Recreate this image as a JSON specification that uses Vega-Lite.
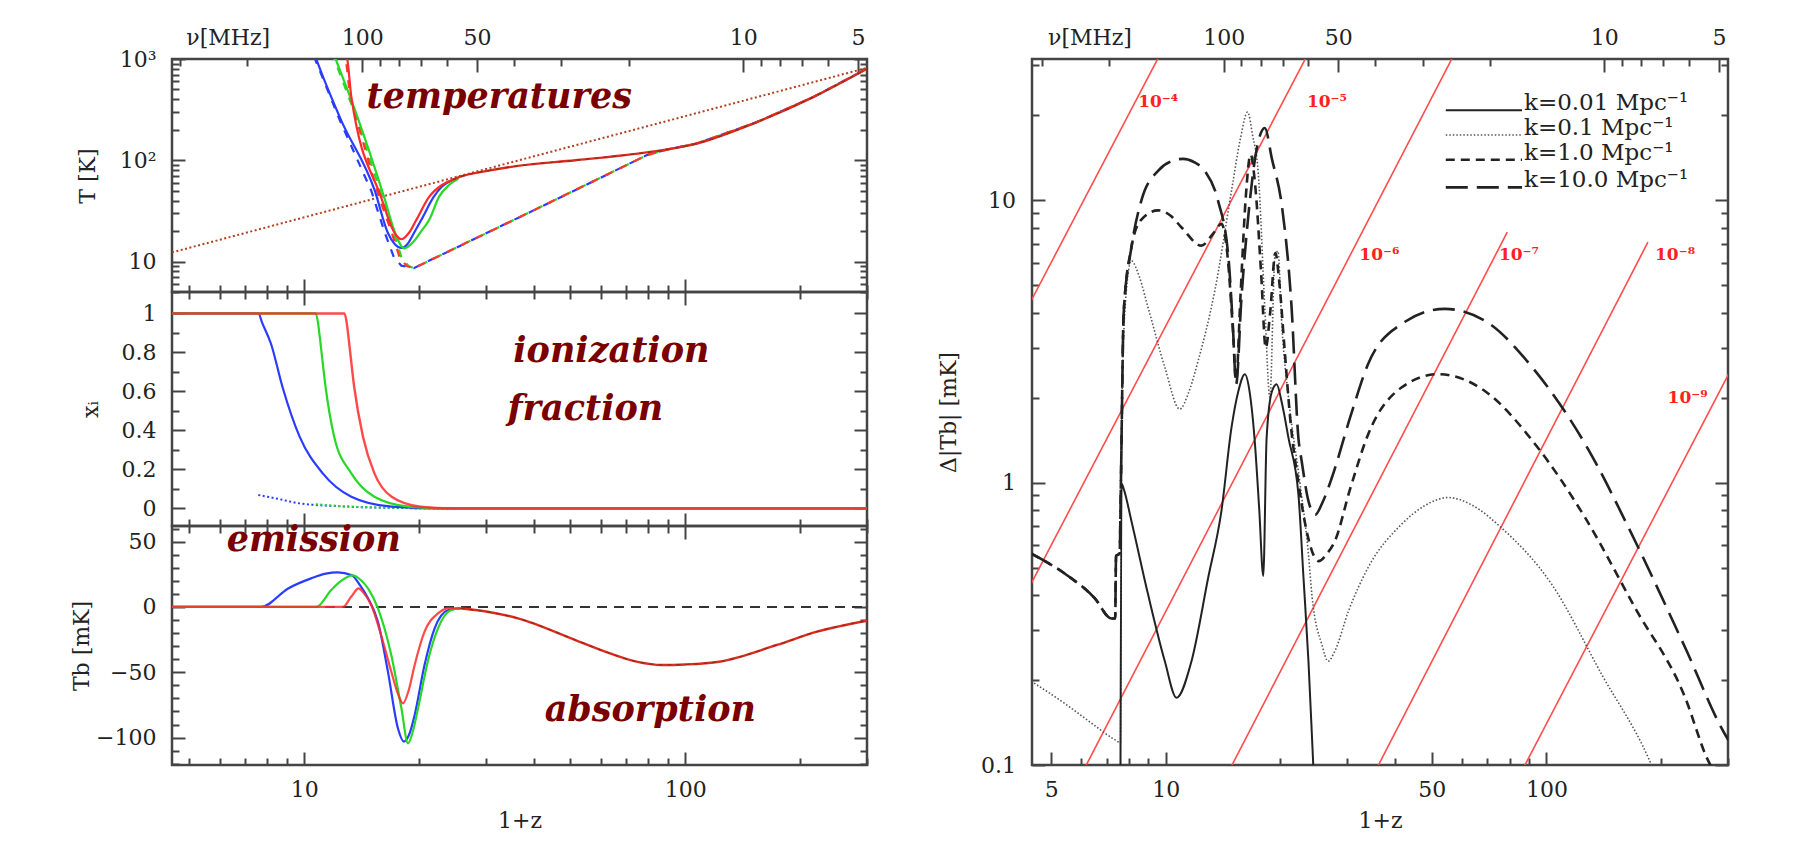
{
  "$schema": "https://vega.github.io/schema/vega-lite/v6.json",
  "background": "white",
  "padding": {"left": 68, "top": 18, "right": 5, "bottom": 5},
  "config": {
    "view": {"stroke": "#444", "strokeWidth": 2.5},
    "axis": {"grid": false, "domain": false, "tickColor": "#444", "tickWidth": 2, "labelFont": "DejaVu Serif", "labelFontSize": 22, "labelColor": "#222", "titleFont": "DejaVu Serif", "titleFontSize": 22, "titleFontWeight": "normal", "titleColor": "#222", "labelFlush": false, "labelOverlap": false}
  },
  "datasets": {
    "top": [
      {"s":"cmb","v":4.5,"T":12.3},{"s":"cmb","v":300,"T":817},
      {"s":"tgB","v":10.6,"T":1060},{"s":"tgB","v":10.68,"T":1000},{"s":"tgB","v":12.4,"T":249},{"s":"tgB","v":15.0,"T":50},{"s":"tgB","v":16.3,"T":19},{"s":"tgB","v":17.2,"T":11},{"s":"tgB","v":18.0,"T":9.1},{"s":"tgB","v":19.4,"T":8.6},{"s":"tgB","v":40,"T":32},{"s":"tgB","v":79.6,"T":113},{"s":"tgB","v":90,"T":128},{"s":"tgB","v":107,"T":146},{"s":"tgB","v":152,"T":233},{"s":"tgB","v":216,"T":418},{"s":"tgB","v":300,"T":802},
      {"s":"tgG","v":11.93,"T":1060},{"s":"tgG","v":12.0,"T":1000},{"s":"tgG","v":13.6,"T":289},{"s":"tgG","v":16.0,"T":43.7},{"s":"tgG","v":17.2,"T":19},{"s":"tgG","v":18.0,"T":11},{"s":"tgG","v":18.8,"T":9.0},{"s":"tgG","v":19.4,"T":8.6},{"s":"tgG","v":40,"T":32},{"s":"tgG","v":79.6,"T":113},{"s":"tgG","v":90,"T":128},{"s":"tgG","v":107,"T":146},{"s":"tgG","v":152,"T":233},{"s":"tgG","v":216,"T":418},{"s":"tgG","v":300,"T":802},
      {"s":"tgR","v":12.8,"T":1060},{"s":"tgR","v":12.87,"T":1000},{"s":"tgR","v":13.2,"T":422},{"s":"tgR","v":15.7,"T":43.7},{"s":"tgR","v":17.0,"T":19},{"s":"tgR","v":17.8,"T":11},{"s":"tgR","v":18.6,"T":9.0},{"s":"tgR","v":19.4,"T":8.6},{"s":"tgR","v":40,"T":32},{"s":"tgR","v":79.6,"T":113},{"s":"tgR","v":90,"T":128},{"s":"tgR","v":107,"T":146},{"s":"tgR","v":152,"T":233},{"s":"tgR","v":216,"T":418},{"s":"tgR","v":300,"T":802},
      {"s":"tsB","v":10.7,"T":1060},{"s":"tsB","v":10.76,"T":1000},{"s":"tsB","v":12.5,"T":249},{"s":"tsB","v":15.3,"T":50.9},{"s":"tsB","v":16.6,"T":19},{"s":"tsB","v":17.3,"T":14.8},{"s":"tsB","v":18.0,"T":13.6},{"s":"tsB","v":18.7,"T":15},{"s":"tsB","v":19.4,"T":19},{"s":"tsB","v":20.3,"T":25.8},{"s":"tsB","v":21.9,"T":43.7},{"s":"tsB","v":23.0,"T":55},{"s":"tsB","v":24.5,"T":64},
      {"s":"tsG","v":12.03,"T":1060},{"s":"tsG","v":12.1,"T":1000},{"s":"tsG","v":13.7,"T":289},{"s":"tsG","v":16.2,"T":43.7},{"s":"tsG","v":17.3,"T":19.5},{"s":"tsG","v":18.3,"T":13.5},{"s":"tsG","v":19.3,"T":15.5},{"s":"tsG","v":20.3,"T":20},{"s":"tsG","v":21.3,"T":25.8},{"s":"tsG","v":22.6,"T":43.7},{"s":"tsG","v":24.0,"T":57},{"s":"tsG","v":25.4,"T":66},
      {"s":"tsR","v":12.9,"T":1060},{"s":"tsR","v":12.97,"T":1000},{"s":"tsR","v":13.3,"T":422},{"s":"tsR","v":15.9,"T":43.7},{"s":"tsR","v":17.3,"T":19},{"s":"tsR","v":18.0,"T":16.6},{"s":"tsR","v":18.8,"T":19},{"s":"tsR","v":19.7,"T":25.8},{"s":"tsR","v":21.3,"T":43.7},{"s":"tsR","v":23.0,"T":57},{"s":"tsR","v":24.5,"T":64},
      {"s":"tail","v":24.5,"T":64},{"s":"tail","v":25.7,"T":68.8},{"s":"tail","v":30,"T":78},{"s":"tail","v":36.4,"T":88},{"s":"tail","v":51.5,"T":100},{"s":"tail","v":73,"T":115},{"s":"tail","v":90,"T":128},{"s":"tail","v":107,"T":146},{"s":"tail","v":152,"T":233},{"s":"tail","v":216,"T":418},{"s":"tail","v":300,"T":802}
    ],
    "mid": [
      {"s":"B","v":4.5,"x":1},{"s":"B","v":7.58,"x":1},{"s":"B","v":7.77,"x":0.949},{"s":"B","v":8.18,"x":0.846},{"s":"B","v":8.77,"x":0.624},{"s":"B","v":9.73,"x":0.368},{"s":"B","v":11.19,"x":0.18},{"s":"B","v":13.3,"x":0.06},{"s":"B","v":16.97,"x":0.009},{"s":"B","v":22.4,"x":0},{"s":"B","v":300,"x":0},
      {"s":"G","v":4.5,"x":1},{"s":"G","v":10.73,"x":1},{"s":"G","v":10.88,"x":0.949},{"s":"G","v":10.99,"x":0.88},{"s":"G","v":11.38,"x":0.624},{"s":"G","v":11.99,"x":0.368},{"s":"G","v":13.3,"x":0.18},{"s":"G","v":15.29,"x":0.06},{"s":"G","v":18.8,"x":0.009},{"s":"G","v":23,"x":0},{"s":"G","v":300,"x":0},
      {"s":"R","v":4.5,"x":1},{"s":"R","v":12.76,"x":1},{"s":"R","v":12.94,"x":0.949},{"s":"R","v":13.07,"x":0.88},{"s":"R","v":13.53,"x":0.624},{"s":"R","v":14.27,"x":0.368},{"s":"R","v":15.29,"x":0.18},{"s":"R","v":16.97,"x":0.06},{"s":"R","v":20.2,"x":0.009},{"s":"R","v":24.5,"x":0},{"s":"R","v":300,"x":0},
      {"s":"dB","v":7.58,"x":0.069},{"s":"dB","v":8.5,"x":0.05},{"s":"dB","v":9.73,"x":0.026},{"s":"dB","v":12.8,"x":0.01},{"s":"dB","v":17,"x":0.003},{"s":"dB","v":25,"x":0},
      {"s":"dG","v":10.73,"x":0.022},{"s":"dG","v":13,"x":0.01},{"s":"dG","v":17,"x":0.004},{"s":"dG","v":25,"x":0}
    ],
    "bot": [
      {"s":"zero","v":4.5,"T":0},{"s":"zero","v":300,"T":0},
      {"s":"B","v":4.5,"T":0},{"s":"B","v":7.71,"T":0},{"s":"B","v":9.08,"T":14.2},{"s":"B","v":10.43,"T":21.9},{"s":"B","v":11.4,"T":25.5},{"s":"B","v":12.26,"T":26.5},{"s":"B","v":13.3,"T":24.5},{"s":"B","v":14.1,"T":15.5},{"s":"B","v":14.71,"T":6.6},{"s":"B","v":15.62,"T":-11.3},{"s":"B","v":16.59,"T":-49.5},{"s":"B","v":17.63,"T":-93},{"s":"B","v":18.28,"T":-103.1},{"s":"B","v":18.9,"T":-97},{"s":"B","v":19.5,"T":-82.7},{"s":"B","v":20.7,"T":-44.4},{"s":"B","v":22.0,"T":-16.4},{"s":"B","v":23.9,"T":-2.3},{"s":"B","v":25.7,"T":-1},
      {"s":"G","v":4.5,"T":0},{"s":"G","v":10.76,"T":0},{"s":"G","v":11.78,"T":13},{"s":"G","v":12.5,"T":20},{"s":"G","v":13.4,"T":24.2},{"s":"G","v":14.1,"T":20.5},{"s":"G","v":14.71,"T":14.2},{"s":"G","v":15.62,"T":-1},{"s":"G","v":16.93,"T":-36.8},{"s":"G","v":18.0,"T":-77.6},{"s":"G","v":18.73,"T":-104.4},{"s":"G","v":19.3,"T":-95},{"s":"G","v":19.9,"T":-77.6},{"s":"G","v":21.1,"T":-41.9},{"s":"G","v":22.45,"T":-16.4},{"s":"G","v":24.3,"T":-2.3},{"s":"G","v":25.7,"T":-1},
      {"s":"R","v":4.5,"T":0},{"s":"R","v":12.64,"T":0},{"s":"R","v":13.3,"T":8},{"s":"R","v":13.9,"T":14.3},{"s":"R","v":14.3,"T":11},{"s":"R","v":15.0,"T":1.5},{"s":"R","v":15.92,"T":-21.5},{"s":"R","v":16.93,"T":-49.5},{"s":"R","v":17.6,"T":-66},{"s":"R","v":18.17,"T":-73.8},{"s":"R","v":18.8,"T":-64},{"s":"R","v":19.5,"T":-44.4},{"s":"R","v":20.7,"T":-18.9},{"s":"R","v":22.45,"T":-4.9},{"s":"R","v":23.9,"T":-1},{"s":"R","v":25.7,"T":-1},
      {"s":"tail","v":25.7,"T":-1},{"s":"tail","v":30,"T":-3.5},{"s":"tail","v":36.4,"T":-8.7},{"s":"tail","v":51.5,"T":-25.3},{"s":"tail","v":63.5,"T":-35.5},{"s":"tail","v":75,"T":-42},{"s":"tail","v":86.8,"T":-44.4},{"s":"tail","v":100,"T":-44},{"s":"tail","v":122.8,"T":-41.9},{"s":"tail","v":174,"T":-29.1},{"s":"tail","v":221.7,"T":-18.9},{"s":"tail","v":300,"T":-10.5}
    ],
    "right": [
      {"s":"rA","v":4.0,"d":3.39},{"s":"rA","v":10.0,"d":35.9},
      {"s":"rB","v":4.4,"d":0.432},{"s":"rB","v":24,"d":34.3},
      {"s":"rC","v":6.0,"d":0.0926},{"s":"rC","v":58,"d":34.0},
      {"s":"rD","v":14.5,"d":0.0927},{"s":"rD","v":78.9,"d":7.70},
      {"s":"rE","v":35.2,"d":0.0929},{"s":"rE","v":184.8,"d":7.10},
      {"s":"rF","v":85.5,"d":0.0933},{"s":"rF","v":310,"d":2.61},
      {"s":"solid","v":7.6,"d":0.09},{"s":"solid","v":7.65,"d":0.99},{"s":"solid","v":7.75,"d":0.95},{"s":"solid","v":8.12,"d":0.731},{"s":"solid","v":8.98,"d":0.402},{"s":"solid","v":9.94,"d":0.233},{"s":"solid","v":10.67,"d":0.173},{"s":"solid","v":11.68,"d":0.233},{"s":"solid","v":12.92,"d":0.46},{"s":"solid","v":14.0,"d":0.794},{"s":"solid","v":14.88,"d":1.567},{"s":"solid","v":15.5,"d":2.1},{"s":"solid","v":16.13,"d":2.42},{"s":"solid","v":16.6,"d":2.1},{"s":"solid","v":17.1,"d":1.44},{"s":"solid","v":17.6,"d":0.8},{"s":"solid","v":18.03,"d":0.467},{"s":"solid","v":18.4,"d":1.44},{"s":"solid","v":19.0,"d":2.1},{"s":"solid","v":19.55,"d":2.23},{"s":"solid","v":20.2,"d":1.9},{"s":"solid","v":21.0,"d":1.44},{"s":"solid","v":22.3,"d":0.909},{"s":"solid","v":23.0,"d":0.46},{"s":"solid","v":23.7,"d":0.233},{"s":"solid","v":24.4,"d":0.1},{"s":"solid","v":24.6,"d":0.08},
      {"s":"dot","v":4.43,"d":0.198},{"s":"dot","v":5.5,"d":0.163},{"s":"dot","v":6.5,"d":0.138},{"s":"dot","v":7.34,"d":0.123},{"s":"dot","v":7.6,"d":0.12},{"s":"dot","v":7.65,"d":1.5},{"s":"dot","v":7.8,"d":4.0},{"s":"dot","v":8.12,"d":6.1},{"s":"dot","v":8.5,"d":5.4},{"s":"dot","v":8.98,"d":4.17},{"s":"dot","v":9.94,"d":2.56},{"s":"dot","v":10.88,"d":1.82},{"s":"dot","v":11.5,"d":2.1},{"s":"dot","v":12.16,"d":2.7},{"s":"dot","v":13.45,"d":4.78},{"s":"dot","v":14.88,"d":10.8},{"s":"dot","v":15.7,"d":16.5},{"s":"dot","v":16.4,"d":20.5},{"s":"dot","v":16.9,"d":17},{"s":"dot","v":17.5,"d":12.4},{"s":"dot","v":18.2,"d":4.17},{"s":"dot","v":18.77,"d":2.0},{"s":"dot","v":19.35,"d":6.3},{"s":"dot","v":19.7,"d":6.6},{"s":"dot","v":20.2,"d":3.5},{"s":"dot","v":21.0,"d":2.0},{"s":"dot","v":22.5,"d":1.0},{"s":"dot","v":23.7,"d":0.557},{"s":"dot","v":24.2,"d":0.4},{"s":"dot","v":25.7,"d":0.267},{"s":"dot","v":26.7,"d":0.233},{"s":"dot","v":27.8,"d":0.253},{"s":"dot","v":30.2,"d":0.351},{"s":"dot","v":34.0,"d":0.5},{"s":"dot","v":41.6,"d":0.711},{"s":"dot","v":48,"d":0.83},{"s":"dot","v":55.2,"d":0.885},{"s":"dot","v":64,"d":0.83},{"s":"dot","v":76.3,"d":0.69},{"s":"dot","v":103.3,"d":0.436},{"s":"dot","v":139.8,"d":0.209},{"s":"dot","v":185.3,"d":0.106},{"s":"dot","v":192,"d":0.095},
      {"s":"short","v":4.43,"d":0.56},{"s":"short","v":5.5,"d":0.47},{"s":"short","v":6.5,"d":0.39},{"s":"short","v":7.2,"d":0.33},{"s":"short","v":7.36,"d":0.33},{"s":"short","v":7.4,"d":0.55},{"s":"short","v":7.56,"d":0.56},{"s":"short","v":7.62,"d":1.0},{"s":"short","v":7.75,"d":4.0},{"s":"short","v":8.12,"d":6.8},{"s":"short","v":8.6,"d":8.5},{"s":"short","v":9.54,"d":9.2},{"s":"short","v":10.3,"d":8.8},{"s":"short","v":11.0,"d":8.0},{"s":"short","v":12.41,"d":6.9},{"s":"short","v":13.3,"d":7.6},{"s":"short","v":14.0,"d":8.24},{"s":"short","v":14.5,"d":6.5},{"s":"short","v":15.0,"d":3.5},{"s":"short","v":15.3,"d":2.3},{"s":"short","v":15.7,"d":4.5},{"s":"short","v":16.2,"d":10.0},{"s":"short","v":16.7,"d":14.5},{"s":"short","v":17.2,"d":11.0},{"s":"short","v":17.8,"d":5.5},{"s":"short","v":18.3,"d":3.0},{"s":"short","v":18.8,"d":4.0},{"s":"short","v":19.4,"d":6.5},{"s":"short","v":19.9,"d":5.0},{"s":"short","v":20.5,"d":3.0},{"s":"short","v":21.3,"d":1.6},{"s":"short","v":22.3,"d":1.0},{"s":"short","v":23.3,"d":0.7},{"s":"short","v":24.5,"d":0.55},{"s":"short","v":25.2,"d":0.527},{"s":"short","v":26.5,"d":0.56},{"s":"short","v":27.8,"d":0.62},{"s":"short","v":30.5,"d":0.95},{"s":"short","v":34.0,"d":1.48},{"s":"short","v":41.6,"d":2.17},{"s":"short","v":51.9,"d":2.42},{"s":"short","v":68.9,"d":2.11},{"s":"short","v":93.3,"d":1.37},{"s":"short","v":126.4,"d":0.751},{"s":"short","v":171,"d":0.36},{"s":"short","v":231.6,"d":0.173},{"s":"short","v":264,"d":0.106},{"s":"short","v":275,"d":0.095},
      {"s":"long","v":4.43,"d":0.56},{"s":"long","v":5.5,"d":0.47},{"s":"long","v":6.5,"d":0.39},{"s":"long","v":7.2,"d":0.33},{"s":"long","v":7.36,"d":0.33},{"s":"long","v":7.4,"d":0.55},{"s":"long","v":7.56,"d":0.56},{"s":"long","v":7.62,"d":1.0},{"s":"long","v":7.75,"d":4.0},{"s":"long","v":8.12,"d":6.8},{"s":"long","v":8.63,"d":10.0},{"s":"long","v":9.54,"d":12.7},{"s":"long","v":10.3,"d":13.7},{"s":"long","v":11.1,"d":14.0},{"s":"long","v":11.9,"d":13.6},{"s":"long","v":12.66,"d":12.7},{"s":"long","v":13.7,"d":10.0},{"s":"long","v":14.6,"d":6.3},{"s":"long","v":15.0,"d":3.6},{"s":"long","v":15.3,"d":2.23},{"s":"long","v":15.8,"d":4.5},{"s":"long","v":16.5,"d":9.0},{"s":"long","v":17.3,"d":15.0},{"s":"long","v":18.2,"d":18.0},{"s":"long","v":19.0,"d":14.0},{"s":"long","v":20.2,"d":9.45},{"s":"long","v":21.4,"d":4.17},{"s":"long","v":22.3,"d":1.44},{"s":"long","v":22.75,"d":1.19},{"s":"long","v":23.7,"d":0.86},{"s":"long","v":24.7,"d":0.77},{"s":"long","v":25.8,"d":0.85},{"s":"long","v":27.3,"d":1.04},{"s":"long","v":30.5,"d":1.7},{"s":"long","v":34.0,"d":2.63},{"s":"long","v":41.6,"d":3.64},{"s":"long","v":54.1,"d":4.12},{"s":"long","v":68.9,"d":3.74},{"s":"long","v":93.3,"d":2.49},{"s":"long","v":126.4,"d":1.37},{"s":"long","v":171,"d":0.621},{"s":"long","v":231.6,"d":0.26},{"s":"long","v":295,"d":0.128},{"s":"long","v":310,"d":0.115},
      {"s":"Lsolid","v":54.4,"d":20.8},{"s":"Lsolid","v":86.3,"d":20.8},
      {"s":"Ldot","v":54.4,"d":17.0},{"s":"Ldot","v":86.3,"d":17.0},
      {"s":"Lshort","v":54.4,"d":13.9},{"s":"Lshort","v":86.3,"d":13.9},
      {"s":"Llong","v":54.4,"d":11.1},{"s":"Llong","v":86.3,"d":11.1}
    ]
  },
  "hconcat": [
    {
      "vconcat": [
        {
          "width": 695, "height": 233,
          "data": {"name": "top"},
          "resolve": {"axis": {"x": "independent", "y": "independent"}},
          "layer": [
            {
              "transform": [{"filter": "datum.s == 'cmb'"}],
              "mark": {"type": "line", "color": "#b04020", "strokeDash": [2, 2.5], "strokeWidth": 2, "clip": true},
              "encoding": {
                "x": {"field": "v", "type": "quantitative", "scale": {"type": "log", "domain": [4.5, 300], "nice": false},
                  "axis": {"orient": "bottom", "values": [5,6,7,8,9,10,20,30,40,50,60,70,80,90,100,200,300], "tickSize": {"condition": {"test": "datum.value == 10 || datum.value == 100", "value": -13}, "value": -7}, "labels": false, "title": null}},
                "y": {"field": "T", "type": "quantitative", "scale": {"type": "log", "domain": [5, 1000], "nice": false},
                  "axis": {"orient": "left", "values": [5,6,7,8,9,10,20,30,40,50,60,70,80,90,100,200,300,400,500,600,700,800,900,1000], "tickSize": {"condition": {"test": "datum.value == 10 || datum.value == 100 || datum.value == 1000", "value": -13}, "value": -7}, "labelExpr": "datum.value == 10 ? '10' : datum.value == 100 ? '10²' : datum.value == 1000 ? '10³' : ''", "labelPadding": 29, "title": "T [K]", "titleX": -85, "titleY": 116.5, "titleBaseline": "middle", "titleAlign": "center", "titleAngle": 270}}
              }
            },
            {
              "transform": [{"filter": "datum.s == 'tgG'"}],
              "mark": {"type": "line", "color": "#27d827", "strokeDash": [8, 8], "strokeDashOffset": 4, "strokeWidth": 2.2, "clip": true},
              "encoding": {"x": {"field": "v", "type": "quantitative", "scale": {"type": "log", "domain": [4.5, 300], "nice": false}, "axis": null}, "y": {"field": "T", "type": "quantitative", "scale": {"type": "log", "domain": [5, 1000], "nice": false}, "axis": null}}
            },
            {
              "transform": [{"filter": "datum.s == 'tgB'"}],
              "mark": {"type": "line", "color": "#2a3cff", "strokeDash": [8, 8], "strokeDashOffset": 0, "strokeWidth": 2.2, "clip": true},
              "encoding": {"x": {"field": "v", "type": "quantitative", "scale": {"type": "log", "domain": [4.5, 300], "nice": false}, "axis": null}, "y": {"field": "T", "type": "quantitative", "scale": {"type": "log", "domain": [5, 1000], "nice": false}, "axis": null}}
            },
            {
              "transform": [{"filter": "datum.s == 'tgR'"}],
              "mark": {"type": "line", "color": "#ff3a2a", "strokeDash": [8, 8], "strokeDashOffset": 8, "strokeWidth": 2.2, "clip": true},
              "encoding": {"x": {"field": "v", "type": "quantitative", "scale": {"type": "log", "domain": [4.5, 300], "nice": false}, "axis": null}, "y": {"field": "T", "type": "quantitative", "scale": {"type": "log", "domain": [5, 1000], "nice": false}, "axis": null}}
            },
            {
              "transform": [{"filter": "datum.s == 'tsB'"}],
              "mark": {"type": "line", "color": "#2a3cff", "strokeWidth": 2.2, "interpolate": "monotone", "clip": true},
              "encoding": {"x": {"field": "v", "type": "quantitative", "scale": {"type": "log", "domain": [4.5, 300], "nice": false}, "axis": null}, "y": {"field": "T", "type": "quantitative", "scale": {"type": "log", "domain": [5, 1000], "nice": false}, "axis": null}}
            },
            {
              "transform": [{"filter": "datum.s == 'tsG'"}],
              "mark": {"type": "line", "color": "#27d827", "strokeWidth": 2.2, "interpolate": "monotone", "clip": true},
              "encoding": {"x": {"field": "v", "type": "quantitative", "scale": {"type": "log", "domain": [4.5, 300], "nice": false}, "axis": null}, "y": {"field": "T", "type": "quantitative", "scale": {"type": "log", "domain": [5, 1000], "nice": false}, "axis": null}}
            },
            {
              "transform": [{"filter": "datum.s == 'tsR'"}],
              "mark": {"type": "line", "color": "#ff2a2a", "strokeWidth": 2.2, "interpolate": "monotone", "clip": true},
              "encoding": {"x": {"field": "v", "type": "quantitative", "scale": {"type": "log", "domain": [4.5, 300], "nice": false}, "axis": null}, "y": {"field": "T", "type": "quantitative", "scale": {"type": "log", "domain": [5, 1000], "nice": false}, "axis": null}}
            },
            {
              "transform": [{"filter": "datum.s == 'tail'"}],
              "mark": {"type": "line", "color": "#e02a1e", "strokeWidth": 2.4, "interpolate": "monotone", "clip": true},
              "encoding": {
                "x": {"field": "v", "type": "quantitative", "scale": {"type": "log", "domain": [4.5, 300], "nice": false},
                  "axis": {"orient": "top", "values": [4.7333, 6.3, 7.1, 14.2, 15.7778, 17.75, 20.2857, 23.6667, 28.4, 35.5, 47.3333, 71, 142, 157.7778, 177.5, 202.8571, 236.6667, 284], "tickSize": {"condition": [{"test": "datum.value == 6.3", "value": 0}, {"test": "datum.value == 14.2 || datum.value == 28.4 || datum.value == 142 || datum.value == 284", "value": -13}], "value": -7}, "labelExpr": "datum.value == 6.3 ? 'ν[MHz]' : datum.value == 14.2 ? '100' : datum.value == 28.4 ? '50' : datum.value == 142 ? '10' : datum.value == 284 ? '5' : ''", "labelBaseline": "middle", "labelPadding": {"condition": {"test": "datum.value == 6.3", "value": 22}, "value": 35}, "title": null}},
                "y": {"field": "T", "type": "quantitative", "scale": {"type": "log", "domain": [5, 1000], "nice": false},
                  "axis": {"orient": "right", "values": [5,6,7,8,9,10,20,30,40,50,60,70,80,90,100,200,300,400,500,600,700,800,900,1000], "tickSize": {"condition": {"test": "datum.value == 10 || datum.value == 100 || datum.value == 1000", "value": -13}, "value": -7}, "labels": false, "title": null}}
              }
            },
            {
              "transform": [{"filter": "datum.s == 'tail'"}],
              "mark": {"type": "line", "color": "#5a3018", "strokeDash": [4, 5], "strokeWidth": 1.3, "opacity": 0.6, "interpolate": "monotone", "clip": true},
              "encoding": {"x": {"field": "v", "type": "quantitative", "scale": {"type": "log", "domain": [4.5, 300], "nice": false}, "axis": null}, "y": {"field": "T", "type": "quantitative", "scale": {"type": "log", "domain": [5, 1000], "nice": false}, "axis": null}}
            },
            {
              "data": {"values": [{"v": 32.5, "T": 422, "t": "temperatures"}]},
              "mark": {"type": "text", "font": "DejaVu Serif", "fontSize": 35, "fontWeight": "bold", "fontStyle": "italic", "color": "#7a0000", "align": "center", "baseline": "middle"},
              "encoding": {"x": {"field": "v", "type": "quantitative", "scale": {"type": "log", "domain": [4.5, 300], "nice": false}, "axis": null}, "y": {"field": "T", "type": "quantitative", "scale": {"type": "log", "domain": [5, 1000], "nice": false}, "axis": null}, "text": {"field": "t"}}
            }
          ]
        },
        {
          "width": 695, "height": 234,
          "data": {"name": "mid"},
          "resolve": {"axis": {"x": "independent", "y": "independent"}},
          "layer": [
            {
              "transform": [{"filter": "datum.s == 'dB'"}],
              "mark": {"type": "line", "color": "#2a3cff", "strokeDash": [2, 2.5], "strokeWidth": 2, "interpolate": "monotone", "clip": true},
              "encoding": {
                "x": {"field": "v", "type": "quantitative", "scale": {"type": "log", "domain": [4.5, 300], "nice": false},
                  "axis": {"orient": "bottom", "values": [5,6,7,8,9,10,20,30,40,50,60,70,80,90,100,200,300], "tickSize": {"condition": {"test": "datum.value == 10 || datum.value == 100", "value": -13}, "value": -7}, "labels": false, "title": null}},
                "y": {"field": "x", "type": "quantitative", "scale": {"domain": [-0.09, 1.11], "nice": false, "zero": false},
                  "axis": {"orient": "left", "values": [0,0.1,0.2,0.3,0.4,0.5,0.6,0.7,0.8,0.9,1], "tickSize": {"condition": {"test": "indexof([0,0.2,0.4,0.6,0.8,1], datum.value) >= 0", "value": -13}, "value": -7}, "labelExpr": "indexof([0,0.2,0.4,0.6,0.8,1], datum.value) >= 0 ? format(datum.value, '~g') : ''", "labelPadding": 29, "title": "xᵢ", "titleX": -82, "titleY": 117, "titleBaseline": "middle", "titleAlign": "center", "titleAngle": 270}}
              }
            },
            {
              "transform": [{"filter": "datum.s == 'dG'"}],
              "mark": {"type": "line", "color": "#27d827", "strokeDash": [2, 2.5], "strokeWidth": 2, "interpolate": "monotone", "clip": true},
              "encoding": {"x": {"field": "v", "type": "quantitative", "scale": {"type": "log", "domain": [4.5, 300], "nice": false}, "axis": null}, "y": {"field": "x", "type": "quantitative", "scale": {"domain": [-0.09, 1.11], "nice": false, "zero": false}, "axis": null}}
            },
            {
              "transform": [{"filter": "datum.s == 'B'"}],
              "mark": {"type": "line", "color": "#2a3cff", "strokeWidth": 2.2, "interpolate": "monotone", "clip": true},
              "encoding": {"x": {"field": "v", "type": "quantitative", "scale": {"type": "log", "domain": [4.5, 300], "nice": false}, "axis": null}, "y": {"field": "x", "type": "quantitative", "scale": {"domain": [-0.09, 1.11], "nice": false, "zero": false}, "axis": null}}
            },
            {
              "transform": [{"filter": "datum.s == 'G'"}],
              "mark": {"type": "line", "color": "#27d827", "strokeWidth": 2.2, "interpolate": "monotone", "clip": true},
              "encoding": {"x": {"field": "v", "type": "quantitative", "scale": {"type": "log", "domain": [4.5, 300], "nice": false}, "axis": null}, "y": {"field": "x", "type": "quantitative", "scale": {"domain": [-0.09, 1.11], "nice": false, "zero": false}, "axis": null}}
            },
            {
              "transform": [{"filter": "datum.s == 'R'"}],
              "mark": {"type": "line", "color": "#ff2a2a", "strokeWidth": 2.4, "opacity": 0.85, "interpolate": "monotone", "clip": true},
              "encoding": {
                "x": {"field": "v", "type": "quantitative", "scale": {"type": "log", "domain": [4.5, 300], "nice": false},
                  "axis": {"orient": "top", "values": [5,6,7,8,9,10,20,30,40,50,60,70,80,90,100,200,300], "tickSize": {"condition": {"test": "datum.value == 10 || datum.value == 100", "value": -13}, "value": -7}, "labels": false, "title": null}},
                "y": {"field": "x", "type": "quantitative", "scale": {"domain": [-0.09, 1.11], "nice": false, "zero": false},
                  "axis": {"orient": "right", "values": [0,0.1,0.2,0.3,0.4,0.5,0.6,0.7,0.8,0.9,1], "tickSize": {"condition": {"test": "indexof([0,0.2,0.4,0.6,0.8,1], datum.value) >= 0", "value": -13}, "value": -7}, "labels": false, "title": null}}
              }
            },
            {
              "data": {"values": [{"v": 64, "x": 0.807, "t": "ionization"}, {"v": 54.7, "x": 0.51, "t": "fraction"}]},
              "mark": {"type": "text", "font": "DejaVu Serif", "fontSize": 35, "fontWeight": "bold", "fontStyle": "italic", "color": "#7a0000", "align": "center", "baseline": "middle"},
              "encoding": {"x": {"field": "v", "type": "quantitative", "scale": {"type": "log", "domain": [4.5, 300], "nice": false}, "axis": null}, "y": {"field": "x", "type": "quantitative", "scale": {"domain": [-0.09, 1.11], "nice": false, "zero": false}, "axis": null}, "text": {"field": "t"}}
            }
          ]
        },
        {
          "width": 695, "height": 239,
          "data": {"name": "bot"},
          "resolve": {"axis": {"x": "independent", "y": "independent"}},
          "layer": [
            {
              "transform": [{"filter": "datum.s == 'zero'"}],
              "mark": {"type": "line", "color": "#333", "strokeDash": [10, 7], "strokeWidth": 2, "clip": true},
              "encoding": {
                "x": {"field": "v", "type": "quantitative", "scale": {"type": "log", "domain": [4.5, 300], "nice": false},
                  "axis": {"orient": "bottom", "values": [5,6,7,8,9,10,20,30,40,50,60,70,80,90,100,200,300], "tickSize": {"condition": {"test": "datum.value == 10 || datum.value == 100", "value": -13}, "value": -7}, "labelExpr": "datum.value == 10 || datum.value == 100 ? format(datum.value, 'd') : ''", "labelBaseline": "middle", "labelPadding": 37, "title": "1+z", "titleX": 347.5, "titleY": 55, "titleBaseline": "middle", "titleAlign": "center"}},
                "y": {"field": "T", "type": "quantitative", "scale": {"domain": [-121, 62], "nice": false, "zero": false},
                  "axis": {"orient": "left", "values": [-120,-110,-100,-90,-80,-70,-60,-50,-40,-30,-20,-10,0,10,20,30,40,50,60], "tickSize": {"condition": {"test": "datum.value % 50 == 0", "value": -13}, "value": -7}, "labelExpr": "datum.value % 50 == 0 ? format(datum.value, 'd') : ''", "labelPadding": 29, "title": "Tb [mK]", "titleX": -91, "titleY": 119.5, "titleBaseline": "middle", "titleAlign": "center", "titleAngle": 270}}
              }
            },
            {
              "transform": [{"filter": "datum.s == 'B'"}],
              "mark": {"type": "line", "color": "#2a3cff", "strokeWidth": 2.2, "interpolate": "monotone", "clip": true},
              "encoding": {"x": {"field": "v", "type": "quantitative", "scale": {"type": "log", "domain": [4.5, 300], "nice": false}, "axis": null}, "y": {"field": "T", "type": "quantitative", "scale": {"domain": [-121, 62], "nice": false, "zero": false}, "axis": null}}
            },
            {
              "transform": [{"filter": "datum.s == 'G'"}],
              "mark": {"type": "line", "color": "#27d827", "strokeWidth": 2.2, "interpolate": "monotone", "clip": true},
              "encoding": {"x": {"field": "v", "type": "quantitative", "scale": {"type": "log", "domain": [4.5, 300], "nice": false}, "axis": null}, "y": {"field": "T", "type": "quantitative", "scale": {"domain": [-121, 62], "nice": false, "zero": false}, "axis": null}}
            },
            {
              "transform": [{"filter": "datum.s == 'R'"}],
              "mark": {"type": "line", "color": "#ff2a2a", "strokeWidth": 2.2, "opacity": 0.85, "interpolate": "monotone", "clip": true},
              "encoding": {"x": {"field": "v", "type": "quantitative", "scale": {"type": "log", "domain": [4.5, 300], "nice": false}, "axis": null}, "y": {"field": "T", "type": "quantitative", "scale": {"domain": [-121, 62], "nice": false, "zero": false}, "axis": null}}
            },
            {
              "transform": [{"filter": "datum.s == 'tail'"}],
              "mark": {"type": "line", "color": "#e02a1e", "strokeWidth": 2.4, "interpolate": "monotone", "clip": true},
              "encoding": {
                "x": {"field": "v", "type": "quantitative", "scale": {"type": "log", "domain": [4.5, 300], "nice": false},
                  "axis": {"orient": "top", "values": [5,6,7,8,9,10,20,30,40,50,60,70,80,90,100,200,300], "tickSize": {"condition": {"test": "datum.value == 10 || datum.value == 100", "value": -13}, "value": -7}, "labels": false, "title": null}},
                "y": {"field": "T", "type": "quantitative", "scale": {"domain": [-121, 62], "nice": false, "zero": false},
                  "axis": {"orient": "right", "values": [-120,-110,-100,-90,-80,-70,-60,-50,-40,-30,-20,-10,0,10,20,30,40,50,60], "tickSize": {"condition": {"test": "datum.value % 50 == 0", "value": -13}, "value": -7}, "labels": false, "title": null}}
              }
            },
            {
              "transform": [{"filter": "datum.s == 'tail'"}],
              "mark": {"type": "line", "color": "#5a3018", "strokeDash": [4, 5], "strokeWidth": 1.3, "opacity": 0.6, "interpolate": "monotone", "clip": true},
              "encoding": {"x": {"field": "v", "type": "quantitative", "scale": {"type": "log", "domain": [4.5, 300], "nice": false}, "axis": null}, "y": {"field": "T", "type": "quantitative", "scale": {"domain": [-121, 62], "nice": false, "zero": false}, "axis": null}}
            },
            {
              "data": {"values": [{"v": 10.6, "T": 51.3, "t": "emission"}, {"v": 81, "T": -78.9, "t": "absorption"}]},
              "mark": {"type": "text", "font": "DejaVu Serif", "fontSize": 35, "fontWeight": "bold", "fontStyle": "italic", "color": "#7a0000", "align": "center", "baseline": "middle"},
              "encoding": {"x": {"field": "v", "type": "quantitative", "scale": {"type": "log", "domain": [4.5, 300], "nice": false}, "axis": null}, "y": {"field": "T", "type": "quantitative", "scale": {"domain": [-121, 62], "nice": false, "zero": false}, "axis": null}, "text": {"field": "t"}}
            }
          ]
        }
      ],
      "spacing": 0,
      "bounds": "flush"
    },
    {
      "width": 696, "height": 706,
      "data": {"name": "right"},
      "resolve": {"axis": {"x": "independent", "y": "independent"}},
      "layer": [
        {
          "transform": [{"filter": "indexof(['rA','rB','rC','rD','rE','rF'], datum.s) >= 0"}],
          "mark": {"type": "line", "color": "#ff4d4d", "strokeWidth": 1.6, "clip": true},
          "encoding": {
            "detail": {"field": "s"},
            "x": {"field": "v", "type": "quantitative", "scale": {"type": "log", "domain": [4.45, 300], "nice": false},
              "axis": {"orient": "bottom", "values": [5,6,7,8,9,10,20,30,40,50,60,70,80,90,100,200,300], "tickSize": {"condition": {"test": "indexof([5,10,50,100], datum.value) >= 0", "value": -13}, "value": -7}, "labelExpr": "indexof([5,10,50,100], datum.value) >= 0 ? format(datum.value, 'd') : ''", "labelBaseline": "middle", "labelPadding": 37, "title": "1+z", "titleX": 348, "titleY": 55, "titleBaseline": "middle", "titleAlign": "center"}},
            "y": {"field": "d", "type": "quantitative", "scale": {"type": "log", "domain": [0.1, 31.6], "nice": false},
              "axis": {"orient": "left", "values": [0.1,0.2,0.3,0.4,0.5,0.6,0.7,0.8,0.9,1,2,3,4,5,6,7,8,9,10,20,30], "tickSize": {"condition": {"test": "datum.value == 0.1 || datum.value == 1 || datum.value == 10", "value": -13}, "value": -7}, "labelExpr": "datum.value == 0.1 ? '0.1' : datum.value == 1 ? '1' : datum.value == 10 ? '10' : ''", "labelPadding": 29.5, "title": "Δ|Tb|   [mK]", "titleX": -83.5, "titleY": 353, "titleBaseline": "middle", "titleAlign": "center", "titleAngle": 270}}
          }
        },
        {
          "transform": [{"filter": "datum.s == 'dot' || datum.s == 'Ldot'"}],
          "mark": {"type": "line", "color": "#555", "strokeDash": [1.5, 2], "strokeWidth": 1.6, "interpolate": "monotone", "clip": true},
          "encoding": {"detail": {"field": "s"}, "x": {"field": "v", "type": "quantitative", "scale": {"type": "log", "domain": [4.45, 300], "nice": false}, "axis": null}, "y": {"field": "d", "type": "quantitative", "scale": {"type": "log", "domain": [0.1, 31.6], "nice": false}, "axis": null}}
        },
        {
          "transform": [{"filter": "datum.s == 'short' || datum.s == 'Lshort'"}],
          "mark": {"type": "line", "color": "#222", "strokeDash": [9, 6], "strokeWidth": 2.6, "interpolate": "monotone", "clip": true},
          "encoding": {"detail": {"field": "s"}, "x": {"field": "v", "type": "quantitative", "scale": {"type": "log", "domain": [4.45, 300], "nice": false}, "axis": null}, "y": {"field": "d", "type": "quantitative", "scale": {"type": "log", "domain": [0.1, 31.6], "nice": false}, "axis": null}}
        },
        {
          "transform": [{"filter": "datum.s == 'long' || datum.s == 'Llong'"}],
          "mark": {"type": "line", "color": "#222", "strokeDash": [22, 9], "strokeWidth": 2.6, "interpolate": "monotone", "clip": true},
          "encoding": {"detail": {"field": "s"}, "x": {"field": "v", "type": "quantitative", "scale": {"type": "log", "domain": [4.45, 300], "nice": false}, "axis": null}, "y": {"field": "d", "type": "quantitative", "scale": {"type": "log", "domain": [0.1, 31.6], "nice": false}, "axis": null}}
        },
        {
          "transform": [{"filter": "datum.s == 'solid' || datum.s == 'Lsolid'"}],
          "mark": {"type": "line", "color": "#222", "strokeWidth": 2, "interpolate": "monotone", "clip": true},
          "encoding": {
            "detail": {"field": "s"},
            "x": {"field": "v", "type": "quantitative", "scale": {"type": "log", "domain": [4.45, 300], "nice": false},
              "axis": {"orient": "top", "values": [4.7333, 6.3, 7.1, 14.2, 15.7778, 17.75, 20.2857, 23.6667, 28.4, 35.5, 47.3333, 71, 142, 157.7778, 177.5, 202.8571, 236.6667, 284], "tickSize": {"condition": [{"test": "datum.value == 6.3", "value": 0}, {"test": "datum.value == 14.2 || datum.value == 28.4 || datum.value == 142 || datum.value == 284", "value": -13}], "value": -7}, "labelExpr": "datum.value == 6.3 ? 'ν[MHz]' : datum.value == 14.2 ? '100' : datum.value == 28.4 ? '50' : datum.value == 142 ? '10' : datum.value == 284 ? '5' : ''", "labelBaseline": "middle", "labelPadding": {"condition": {"test": "datum.value == 6.3", "value": 22}, "value": 35}, "title": null}},
            "y": {"field": "d", "type": "quantitative", "scale": {"type": "log", "domain": [0.1, 31.6], "nice": false},
              "axis": {"orient": "right", "values": [0.1,0.2,0.3,0.4,0.5,0.6,0.7,0.8,0.9,1,2,3,4,5,6,7,8,9,10,20,30], "tickSize": {"condition": {"test": "datum.value == 0.1 || datum.value == 1 || datum.value == 10", "value": -13}, "value": -7}, "labels": false, "title": null}}
          }
        },
        {
          "data": {"values": [{"v": 9.55, "d": 22.3, "t": "10⁻⁴"}, {"v": 26.5, "d": 22.3, "t": "10⁻⁵"}, {"v": 36.4, "d": 6.37, "t": "10⁻⁶"}, {"v": 84.7, "d": 6.37, "t": "10⁻⁷"}, {"v": 217.8, "d": 6.37, "t": "10⁻⁸"}, {"v": 235, "d": 2.0, "t": "10⁻⁹"}]},
          "mark": {"type": "text", "font": "DejaVu Serif", "fontSize": 17, "fontWeight": "bold", "color": "#ff2020", "align": "center", "baseline": "middle"},
          "encoding": {"x": {"field": "v", "type": "quantitative", "scale": {"type": "log", "domain": [4.45, 300], "nice": false}, "axis": null}, "y": {"field": "d", "type": "quantitative", "scale": {"type": "log", "domain": [0.1, 31.6], "nice": false}, "axis": null}, "text": {"field": "t"}}
        },
        {
          "data": {"values": [{"v": 87.3, "d": 20.8, "t": "k=0.01 Mpc⁻¹"}, {"v": 87.3, "d": 17.0, "t": "k=0.1 Mpc⁻¹"}, {"v": 87.3, "d": 13.9, "t": "k=1.0 Mpc⁻¹"}, {"v": 87.3, "d": 11.1, "t": "k=10.0 Mpc⁻¹"}]},
          "mark": {"type": "text", "font": "DejaVu Serif", "fontSize": 23, "color": "#222", "align": "left", "baseline": "alphabetic"},
          "encoding": {"x": {"field": "v", "type": "quantitative", "scale": {"type": "log", "domain": [4.45, 300], "nice": false}, "axis": null}, "y": {"field": "d", "type": "quantitative", "scale": {"type": "log", "domain": [0.1, 31.6], "nice": false}, "axis": null}, "text": {"field": "t"}}
        }
      ]
    }
  ],
  "spacing": 66
}
